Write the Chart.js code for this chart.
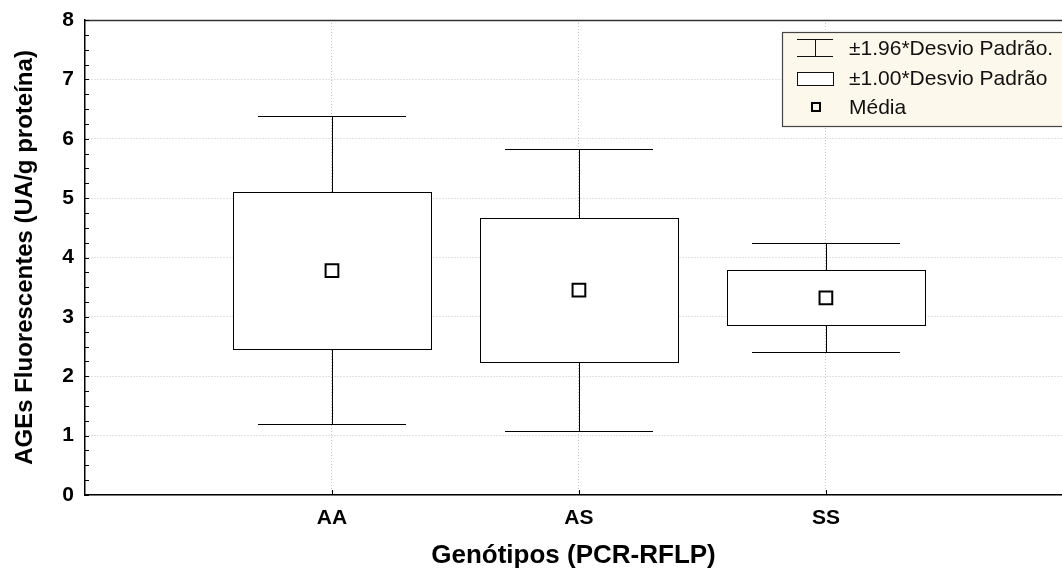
<!DOCTYPE html>
<html>
<head>
<meta charset="utf-8">
<script src="https://cdn.jsdelivr.net/npm/chart.js@4/dist/chart.umd.min.js"></script>
<style>
  html, body { margin: 0; padding: 0; background: #fff; overflow: hidden; }
  #wrap { width: 1062px; height: 578px; position: relative; }
</style>
</head>
<body>
<div id="wrap"><canvas id="boxChart"></canvas></div>
<script>
// valores
const categories = ["AA", "AS", "SS"];
const means = [3.78, 3.45, 3.32];
const boxLow = [2.46, 2.24, 2.86];      // media - 1.00*DP
const boxHigh = [5.11, 4.66, 3.79];     // media + 1.00*DP
const whiskerLow = [1.19, 1.07, 2.41];  // media - 1.96*DP
const whiskerHigh = [6.38, 5.83, 4.24]; // media + 1.96*DP
const yTicks = [0, 1, 2, 3, 4, 5, 6, 7, 8];
const legendLabels = ["±1.96*Desvio Padrão.", "±1.00*Desvio Padrão", "Média"];

const FONT = "'Liberation Sans', Arial, sans-serif";

// caixas e bigodes desenhados pelas escalas do grafico
const boxPlugin = {
    id: "boxPlugin",
    beforeDatasetsDraw(chart) {
        const ctx = chart.ctx;
        const xs = chart.scales.x, ys = chart.scales.y;
        ctx.save();
        ctx.strokeStyle = "#000";
        ctx.lineWidth = 1;
        categories.forEach((c, i) => {
            let xc = Math.round(xs.getPixelForValue(i + 1)) + 0.5;
            let bl = Math.round(xs.getPixelForValue(i + 1 - 0.4)), br = Math.round(xs.getPixelForValue(i + 1 + 0.4));
            let cl = Math.round(xs.getPixelForValue(i + 1 - 0.3)), cr = Math.round(xs.getPixelForValue(i + 1 + 0.3));
            let yWh = Math.round(ys.getPixelForValue(whiskerHigh[i])) + 0.5;
            let yWl = Math.round(ys.getPixelForValue(whiskerLow[i])) + 0.5;
            let yBh = Math.round(ys.getPixelForValue(boxHigh[i])) + 0.5;
            let yBl = Math.round(ys.getPixelForValue(boxLow[i])) + 0.5;
            // bigodes
            ctx.beginPath();
            ctx.moveTo(xc, yWh); ctx.lineTo(xc, yBh);
            ctx.moveTo(xc, yBl); ctx.lineTo(xc, yWl);
            ctx.moveTo(cl, yWh); ctx.lineTo(cr, yWh);
            ctx.moveTo(cl, yWl); ctx.lineTo(cr, yWl);
            ctx.stroke();
            // caixa
            ctx.fillStyle = "#fff";
            ctx.fillRect(bl + 0.5, yBh, br - bl, yBl - yBh);
            ctx.strokeRect(bl + 0.5, yBh, br - bl, yBl - yBh);
        });
        ctx.restore();
    },
    afterDraw(chart) {
        const ctx = chart.ctx;
        const a = chart.chartArea;
        const xs = chart.scales.x, ys = chart.scales.y;
        ctx.save();
        // moldura de cima
        ctx.strokeStyle = "#333";
        ctx.lineWidth = 1.5;
        ctx.beginPath();
        ctx.moveTo(a.left, a.top + 0.5); ctx.lineTo(chart.width, a.top + 0.5);
        ctx.stroke();
        // tracos para dentro
        ctx.strokeStyle = "#000";
        ctx.lineWidth = 1;
        ctx.beginPath();
        for (let v = 0; v <= 8; v += 0.25) {
            let y = Math.round(ys.getPixelForValue(v)) + 0.5;
            ctx.moveTo(a.left, y); ctx.lineTo(a.left + 4, y);
        }
        categories.forEach((c, i) => {
            let x = Math.round(xs.getPixelForValue(i + 1)) + 0.5;
            ctx.moveTo(x, a.bottom); ctx.lineTo(x, a.bottom - 5);
        });
        ctx.stroke();

        // legenda
        const lx = 782.5, ly = 32.5;
        ctx.fillStyle = "#fdf8ec";
        ctx.fillRect(lx, ly, 300, 94);
        ctx.strokeStyle = "#444";
        ctx.lineWidth = 1.2;
        ctx.strokeRect(lx, ly, 300, 94);
        ctx.strokeStyle = "#111";
        ctx.lineWidth = 1;
        ctx.beginPath();
        ctx.moveTo(797, 39.5); ctx.lineTo(833, 39.5);
        ctx.moveTo(815.5, 39.5); ctx.lineTo(815.5, 56.5);
        ctx.moveTo(797, 56.5); ctx.lineTo(833, 56.5);
        ctx.stroke();
        ctx.fillStyle = "#fff";
        ctx.fillRect(797.5, 72.5, 36, 13);
        ctx.strokeRect(797.5, 72.5, 36, 13);
        ctx.lineWidth = 2;
        ctx.strokeStyle = "#000";
        ctx.strokeRect(812, 103, 8, 8);
        ctx.fillStyle = "#111";
        ctx.font = "21px " + FONT;
        ctx.textBaseline = "middle";
        ctx.fillText(legendLabels[0], 849, 49);
        ctx.fillText(legendLabels[1], 849, 79);
        ctx.fillText(legendLabels[2], 849, 108);
        ctx.restore();
    }
};

const ctx = document.getElementById("boxChart").getContext("2d");
new Chart(ctx, {
    type: "scatter",
    data: {
        datasets: [{
            label: "Média",
            data: means.map((m, i) => ({ x: i + 1, y: m })),
            pointStyle: "rect",
            pointRadius: 9,
            pointHoverRadius: 9,
            backgroundColor: "#fff",
            borderColor: "#000",
            borderWidth: 2
        }]
    },
    options: {
        responsive: true,
        maintainAspectRatio: false,
        animation: false,
        events: [],
        layout: { autoPadding: false, padding: { top: 20, right: 0, left: 0, bottom: 0 } },
        plugins: { legend: { display: false }, tooltip: { enabled: false } },
        scales: {
            x: {
                type: "linear",
                min: 0,
                max: 3.956,
                afterFit: s => { s.height = 83; s.paddingLeft = 0; s.paddingRight = 0; },
                afterBuildTicks: s => { s.ticks = categories.map((c, i) => ({ value: i + 1 })); },
                grid: { color: "#c4c4c4", drawTicks: false, lineWidth: 1 },
                border: { display: true, color: "#000", width: 1.5, dash: [1, 2] },
                ticks: {
                    padding: 11,
                    color: "#000",
                    font: { family: FONT, size: 21, weight: "bold" },
                    callback: v => categories[v - 1] || ""
                },
                title: {
                    display: true,
                    text: "Genótipos (PCR-RFLP)",
                    color: "#000",
                    font: { family: FONT, size: 26, weight: "bold" },
                    padding: { top: 0, bottom: 7 }
                }
            },
            y: {
                min: 0,
                max: 8,
                afterFit: s => { s.width = 85; s.paddingTop = 0; s.paddingBottom = 0; },
                afterBuildTicks: s => { s.ticks = yTicks.map(v => ({ value: v })); },
                grid: { color: "#c4c4c4", drawTicks: false, lineWidth: 1 },
                border: { display: true, color: "#000", width: 1.5, dash: [1, 2] },
                ticks: {
                    padding: 11,
                    color: "#000",
                    font: { family: FONT, size: 21, weight: "bold" }
                },
                title: {
                    display: true,
                    text: "AGEs Fluorescentes (UA/g proteína)",
                    color: "#000",
                    font: { family: FONT, size: 24, weight: "bold" },
                    padding: { top: 11, bottom: 0 }
                }
            }
        }
    },
    plugins: [boxPlugin]
});
</script>
</body>
</html>
